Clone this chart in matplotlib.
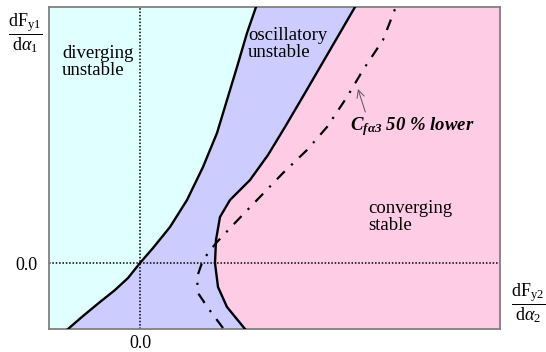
"""Stability map in the (dFy2/dalpha2, dFy1/dalpha1) plane."""

import matplotlib.pyplot as plt
import numpy as np

plt.rcParams["font.family"] = ["Liberation Serif", "DejaVu Serif"]
plt.rcParams["mathtext.fontset"] = "custom"
plt.rcParams["mathtext.rm"] = "Liberation Serif"
plt.rcParams["mathtext.it"] = "Liberation Serif:italic"
plt.rcParams["mathtext.bf"] = "Liberation Serif:bold"
plt.rcParams["mathtext.bfit"] = "Liberation Serif:bold:italic"

# boundary diverging / oscillatory
left_x = [-0.72, -0.57, -0.40, -0.25, -0.12, 0.00, 0.13, 0.30, 0.47, 0.63, 0.77, 0.87, 0.97,
          1.07, 1.16]
left_y = [-0.66, -0.53, -0.39, -0.27, -0.15, 0.00, 0.15, 0.36, 0.63, 0.96, 1.30, 1.63, 1.96,
          2.30, 2.56]

# boundary oscillatory / converging
right_x = [1.05, 0.87, 0.78, 0.75, 0.76, 0.80, 0.90, 1.00, 1.10, 1.28, 1.45, 1.65, 1.90, 2.15]
right_y = [-0.66, -0.44, -0.24, 0.00, 0.23, 0.46, 0.63, 0.73, 0.83, 1.08, 1.36, 1.70, 2.13, 2.56]

# boundary with C_fa3 50 % lower
lower_x = [0.83, 0.68, 0.58, 0.57, 0.63, 0.72, 0.77, 0.93, 1.17, 1.43, 1.67, 1.87, 2.07, 2.23,
           2.43, 2.55]
lower_y = [-0.65, -0.45, -0.30, -0.14, 0.03, 0.15, 0.21, 0.38, 0.63, 0.90, 1.13, 1.36, 1.66,
           1.93, 2.23, 2.54]

XMIN, XMAX = -0.91, 3.60
YMIN, YMAX = -0.66, 2.56

CYAN = "#e0ffff"
LAVENDER = "#ccccff"
PINK = "#ffcce6"

fig = plt.figure(figsize=(5.46, 3.52), dpi=100)
ax = fig.add_axes([49 / 546, 1 - 329 / 352, 451 / 546, 322 / 352])

ax.fill_betweenx(left_y, XMIN, left_x, color=CYAN, lw=0)
ax.fill(np.r_[left_x, right_x[::-1]], np.r_[left_y, right_y[::-1]], color=LAVENDER, lw=0)
ax.fill_betweenx(right_y, right_x, XMAX, color=PINK, lw=0)

ax.axvline(0, color="black", ls=(0, (1, 1.2)), lw=1.1, zorder=2)
ax.axhline(0, color="black", ls=(0, (1, 1.2)), lw=1.1, zorder=2)

line_kw = dict(color="black", zorder=3, solid_joinstyle="round", dash_joinstyle="round")
ax.plot(left_x, left_y, lw=1.7, **line_kw)
ax.plot(right_x, right_y, lw=1.7, **line_kw)
ax.plot(lower_x, lower_y, lw=1.6, ls=(0, (5, 4, 1, 4)), **line_kw)

ax.set_xlim(XMIN, XMAX)
ax.set_ylim(YMIN, YMAX)
ax.set_xticks([0.0], ["0.0"])
ax.set_yticks([0.0], ["0.0"])
ax.tick_params(axis="x", length=0, labelsize=13, pad=4)
ax.tick_params(axis="y", length=0, labelsize=13, pad=8)
for spine in ax.spines.values():
    spine.set_color("#808080")
    spine.set_linewidth(1.3)

text_kw = dict(fontsize=13.5, ha="left", va="top", linespacing=1.0)
ax.text(-0.78, 2.18, "diverging\nunstable", **text_kw)
ax.text(1.08, 2.36, "oscillatory\nunstable", **text_kw)
ax.text(2.28, 0.63, "converging\nstable", **text_kw)

ax.annotate(
    r"$\mathbfit{C}_{\mathbfit{f\alpha 3}}$ 50 % lower",
    xy=(2.18, 1.74),
    xytext=(2.10, 1.33),
    fontsize=13.5,
    fontweight="bold",
    style="italic",
    va="baseline",
    arrowprops=dict(arrowstyle="->", color="#555555", lw=0.7, shrinkA=0, shrinkB=0,
                    relpos=(0.13, 1.0)),
)

fig.text(25 / 546, 1 - 33 / 352, r"$\dfrac{\mathrm{dF}_{\mathrm{y1}}}{\mathrm{d}\alpha_{1}}$",
         fontsize=13, ha="center", va="center")
fig.text(528 / 546, 1 - 303 / 352, r"$\dfrac{\mathrm{dF}_{\mathrm{y2}}}{\mathrm{d}\alpha_{2}}$",
         fontsize=13, ha="center", va="center")

fig.savefig("out.png", dpi=100)
